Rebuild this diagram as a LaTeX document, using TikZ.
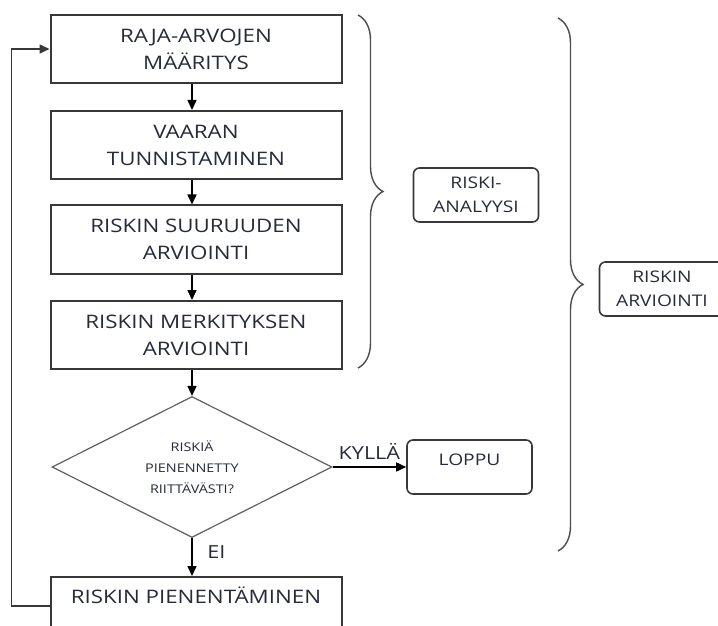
\documentclass[tikz,border=0pt]{standalone}
\usepackage{fontspec}
\setmainfont{Open Sans}[FakeStretch=1.2]
\usetikzlibrary{shapes.geometric,arrows.meta,decorations.pathreplacing}
\definecolor{linecol}{HTML}{383838}
\definecolor{textcol}{HTML}{262A3A}
\begin{document}
\begin{tikzpicture}[x=0.5pt, y=-0.5pt, >={Triangle[length=5pt,width=4.5pt]},
    stepbox/.style={draw=linecol, line width=1pt, minimum width=145.5pt, minimum height=34pt,
        align=center, text=textcol, font=\fontsize{9.3}{13.5}\selectfont},
    tagbox/.style={draw=linecol, line width=0.8pt, rounded corners=3pt, minimum width=62.5pt,
        minimum height=27pt, align=center, text=textcol, font=\fontsize{8}{12}\selectfont},
    flow/.style={->, draw=black, line width=0.8pt},
    curly/.style={draw=gray!60!black, line width=0.7pt, decorate, decoration={brace, amplitude=12.5pt}}]
    \useasboundingbox (0,0) rectangle (718,626);

    % vaiheet
    \node[stepbox] (rajat) at (196,49) {RAJA-ARVOJEN\\MÄÄRITYS};
    \node[stepbox] (vaara) at (196,145) {VAARAN\\TUNNISTAMINEN};
    \node[stepbox] (suuruus) at (196,239.5) {RISKIN SUURUUDEN\\ARVIOINTI};
    \node[stepbox] (merkitys) at (196,335) {RISKIN MERKITYKSEN\\ARVIOINTI};

    % paatos
    \node[draw=gray!75!black, line width=0.6pt, diamond, aspect=2, minimum width=140pt, minimum height=70.5pt,
        inner sep=0pt, align=center, text=textcol, font=\fontsize{6}{10.5}\selectfont]
        (riitto) at (192,467) {RISKIÄ\\PIENENNETTY\\RIITTÄVÄSTI?};
    \node[tagbox, inner ysep=0pt, text height=12.9pt, text depth=14.1pt] (loppu) at (469.5,467) {LOPPU};
    \node[stepbox, minimum height=29pt, inner ysep=0pt, text height=13.3pt, text depth=15.7pt]
        (pienennys) at (196,606) {RISKIN PIENENTÄMINEN};

    % ryhmat
    \node[tagbox] (analyysi) at (476,195) {RISKI-\\ANALYYSI};
    \node[tagbox] (arviointi) at (662,289) {RISKIN\\ARVIOINTI};
    \draw[curly] (358,15) -- (358,368);
    \draw[curly] (558,18) -- (558,551);

    % nuolet
    \draw[flow] (rajat.south -| riitto) -- (vaara.north -| riitto);
    \draw[flow] (vaara.south -| riitto) -- (suuruus.north -| riitto);
    \draw[flow] (suuruus.south -| riitto) -- (merkitys.north -| riitto);
    \draw[flow] (merkitys.south -| riitto) -- (riitto.north);
    \draw[flow] (riitto.east) -- node[above, text=textcol, font=\fontsize{9}{11}\selectfont] {KYLLÄ} (loppu.west);
    \draw[flow] (riitto.south) -- node[pos=0.38, right=4pt, text=textcol, font=\fontsize{9}{11}\selectfont] {EI}
        (pienennys.north -| riitto);
    \draw[flow, draw=linecol] (pienennys.west) -- ++(-38,0) |- (rajat.west);
\end{tikzpicture}
\end{document}
